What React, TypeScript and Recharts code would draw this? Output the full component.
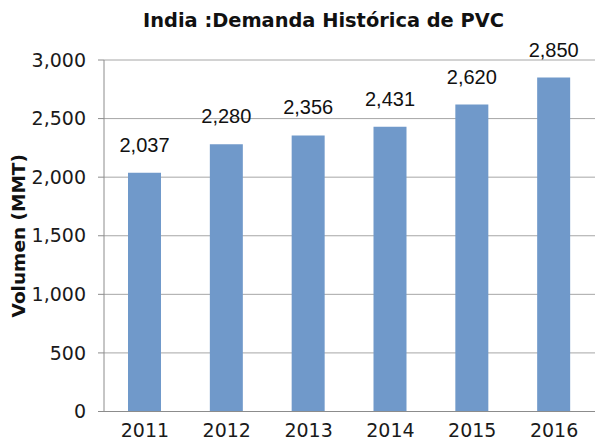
import { Bar, BarChart, CartesianGrid, LabelList, XAxis, YAxis } from "recharts";

const years = ["2011", "2012", "2013", "2014", "2015", "2016"];
const demand = [2037, 2280, 2356, 2431, 2620, 2850];
const yTicks = [0, 500, 1000, 1500, 2000, 2500, 3000];
const edgeTicks = [0, 1, 2, 3, 4, 5, 6];

const data = years.map((year, i) => ({ year, demand: demand[i] }));

const fmt = (v: number) => Number(v).toLocaleString("en-US");
const axisGrey = "#8c8c8c";
const verdana = "Verdana, 'DejaVu Sans', sans-serif";

// Demanda histórica de PVC en India (barras simples con etiquetas)
export default function App() {
  const tick = { fill: "#1a1a1a", fontSize: 19, fontFamily: verdana };
  return (
    <div style={{ position: "absolute", left: 0, top: 0, width: 595, height: 447, background: "#fff" }}>
      <div
        style={{
          position: "absolute",
          left: 143,
          top: 10,
          whiteSpace: "nowrap",
          fontFamily: verdana,
          fontWeight: "bold",
          fontSize: 19.4,
          lineHeight: "21px",
          color: "#111",
        }}
      >
        India :Demanda Histórica de PVC
      </div>
      <BarChart width={595} height={447} data={data} margin={{ top: 60, right: 0, bottom: 0, left: 0 }}>
        <CartesianGrid stroke="#a6a6a6" vertical={false} />
        <XAxis
          xAxisId="a"
          type="number"
          domain={[0, 6]}
          allowDataOverflow
          ticks={edgeTicks}
          tick={false}
          height={8}
          stroke={axisGrey}
          tickSize={6}
        />
        <XAxis
          xAxisId="b"
          dataKey="year"
          height={27.5}
          axisLine={false}
          tickLine={false}
          tickSize={0}
          tickMargin={4}
          tick={tick}
        />
        <YAxis
          domain={[0, 3000]}
          ticks={yTicks}
          tickFormatter={fmt}
          width={104}
          tick={tick}
          stroke={axisGrey}
          tickSize={6}
          tickMargin={12}
          label={{
            value: "Volumen (MMT)",
            angle: -90,
            position: "insideLeft",
            offset: 18,
            style: { textAnchor: "middle" },
            fontWeight: "bold",
            fontSize: 18.5,
            fontFamily: verdana,
            fill: "#111",
          }}
        />
        <Bar xAxisId="b" dataKey="demand" fill="#7099ca" barSize={33} isAnimationActive={false}>
          <LabelList
            dataKey="demand"
            position="top"
            offset={21}
            formatter={(v: any) => fmt(v)}
            fill="#111"
            fontSize={20}
            fontFamily="Arial, 'Liberation Sans', sans-serif"
          />
        </Bar>
      </BarChart>
    </div>
  );
}
